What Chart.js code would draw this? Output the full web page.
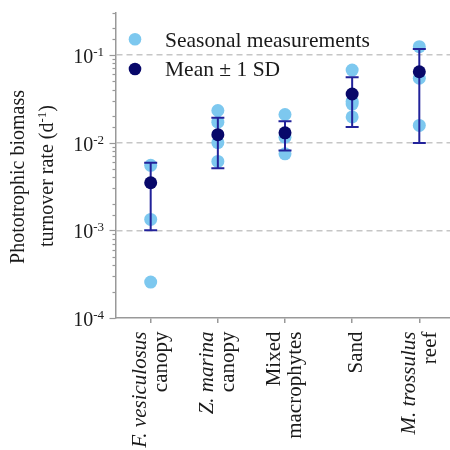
<!DOCTYPE html>
<html><head><meta charset="utf-8">
<script src="https://cdn.jsdelivr.net/npm/chart.js@4/dist/chart.umd.min.js"></script>
<style>html,body{margin:0;padding:0;background:#fff;}#wrap{width:450px;height:450px;position:relative;}</style>
</head><body>
<div id="wrap"><canvas id="c" width="450" height="450"></canvas></div>
<script>
// ---- data ----
const categories = ["F. vesiculosus canopy", "Z. marina canopy", "Mixed macrophytes", "Sand", "M. trossulus reef"];
const categoryLines = [["F. vesiculosus", "canopy"], ["Z. marina", "canopy"], ["Mixed", "macrophytes"], ["Sand"], ["M. trossulus", "reef"]];
const italicFirstLine = [true, true, false, false, true];
const seasonalValues = [
  [0.0055, 0.00133, 0.000257],
  [0.0232, 0.0171, 0.0100, 0.0061],
  [0.0209, 0.0115, 0.00745],
  [0.067, 0.0295, 0.0275, 0.0196],
  [0.124, 0.0541, 0.0157]
];
const meanValues = [0.00348, 0.0123, 0.0129, 0.0358, 0.0642];
const sdLower = [0.0010, 0.0051, 0.0081, 0.0150, 0.0099];
const sdUpper = [0.0059, 0.0192, 0.0175, 0.0556, 0.1165];
const yTickValues = [1e-1, 1e-2, 1e-3, 1e-4];
const yTickExponents = ["-1", "-2", "-3", "-4"];
const legendLabels = ["Seasonal measurements", "Mean \u00b1 1 SD"];
const yTitleLine1 = "Phototrophic biomass";
const yTitleLine2 = ["turnover rate (d", "-1", ")"];

// ---- style ----
const FONT = '"Liberation Serif","Times New Roman",serif';
const LIGHT = '#7dc8ef';
const DARK = '#08086a';
const ERR = '#22229a';
const AXIS = '#999999';
const TEXT = '#1a1a1a';

const seasonalPoints = seasonalValues.flatMap((arr, i) => arr.map(v => ({x: i, y: v})));
const meanPoints = meanValues.map((v, i) => ({x: i, y: v}));

function isDecade(v) { const l = Math.log10(v); return Math.abs(l - Math.round(l)) < 1e-6; }

const custom = {
  id: 'custom',
  afterDatasetDraw(chart, args) {
    if (args.index !== 0) return;
    const {ctx, scales: {x, y}} = chart;
    ctx.save();
    ctx.strokeStyle = ERR; ctx.lineWidth = 2;
    meanValues.forEach((m, i) => {
      const px = x.getPixelForValue(i);
      const y1 = y.getPixelForValue(sdLower[i]);
      const y2 = y.getPixelForValue(sdUpper[i]);
      ctx.beginPath();
      ctx.moveTo(px, y1); ctx.lineTo(px, y2);
      ctx.moveTo(px - 6.5, y1); ctx.lineTo(px + 6.5, y1);
      ctx.moveTo(px - 6.5, y2); ctx.lineTo(px + 6.5, y2);
      ctx.stroke();
    });
    ctx.restore();
  },
  afterDraw(chart) {
    const {ctx, scales: {x, y}, chartArea} = chart;
    ctx.save();
    // y tick marks
    ctx.strokeStyle = AXIS; ctx.lineWidth = 1.2;
    const ax = chartArea.left;
    y.ticks.forEach(t => {
      const py = Math.round(y.getPixelForValue(t.value)) + 0.5;
      const len = isDecade(t.value) ? 6 : 3;
      ctx.beginPath(); ctx.moveTo(ax - len, py); ctx.lineTo(ax, py); ctx.stroke();
    });
    // y tick labels with superscripts
    ctx.fillStyle = TEXT;
    ctx.textBaseline = 'alphabetic';
    ctx.textAlign = 'left';
    yTickValues.forEach((v, i) => {
      const py = y.getPixelForValue(v);
      ctx.font = '13px ' + FONT;
      const ws = ctx.measureText(yTickExponents[i]).width;
      ctx.font = '20px ' + FONT;
      const wb = ctx.measureText('10').width;
      const right = 104;
      ctx.fillText('10', right - ws - wb, py + 8);
      ctx.font = '13px ' + FONT;
      ctx.fillText(yTickExponents[i], right - ws, py + 1);
    });
    // x category labels (rotated)
    categoryLines.forEach((lines, i) => {
      const px = x.getPixelForValue(i);
      ctx.save();
      ctx.translate(px, 331.5);
      ctx.rotate(-Math.PI / 2);
      ctx.textAlign = 'right';
      ctx.textBaseline = 'alphabetic';
      if (lines.length === 1) {
        ctx.font = '21px ' + FONT;
        ctx.fillText(lines[0], 0, 9.5);
      } else {
        ctx.font = (italicFirstLine[i] ? 'italic ' : '') + '21px ' + FONT;
        ctx.fillText(lines[0], 0, -4.5);
        ctx.font = '21px ' + FONT;
        ctx.fillText(lines[1], 0, 16.5);
      }
      ctx.restore();
    });
    // y title
    ctx.save();
    ctx.translate(23.5, 177);
    ctx.rotate(-Math.PI / 2);
    ctx.font = '20px ' + FONT;
    ctx.textAlign = 'center';
    ctx.fillText(yTitleLine1, 0, 0);
    ctx.restore();
    ctx.save();
    ctx.translate(53, 176);
    ctx.rotate(-Math.PI / 2);
    ctx.textAlign = 'left';
    ctx.font = '20px ' + FONT;
    const w1 = ctx.measureText(yTitleLine2[0]).width;
    const w3 = ctx.measureText(yTitleLine2[2]).width;
    ctx.font = '13px ' + FONT;
    const w2 = ctx.measureText(yTitleLine2[1]).width;
    let sx = -(w1 + w2 + w3) / 2;
    ctx.font = '20px ' + FONT;
    ctx.fillText(yTitleLine2[0], sx, 0); sx += w1;
    ctx.font = '13px ' + FONT;
    ctx.fillText(yTitleLine2[1], sx, -7); sx += w2;
    ctx.font = '20px ' + FONT;
    ctx.fillText(yTitleLine2[2], sx, 0);
    ctx.restore();
    // legend
    const legendColors = [LIGHT, DARK];
    const legendY = [39.3, 69];
    legendLabels.forEach((lab, i) => {
      ctx.beginPath();
      ctx.fillStyle = legendColors[i];
      ctx.arc(135, legendY[i], 6.3, 0, Math.PI * 2);
      ctx.fill();
      ctx.fillStyle = TEXT;
      ctx.font = '21.5px ' + FONT;
      ctx.textAlign = 'left';
      ctx.textBaseline = 'alphabetic';
      ctx.fillText(lab, 165, legendY[i] + 7.2);
    });
    ctx.restore();
  }
};

new Chart(document.getElementById('c'), {
  type: 'scatter',
  data: {
    datasets: [
      {label: legendLabels[0], data: seasonalPoints, backgroundColor: LIGHT, borderWidth: 0, pointRadius: 6.5, order: 2, clip: false},
      {label: legendLabels[1], data: meanPoints, backgroundColor: DARK, borderWidth: 0, pointRadius: 6.5, order: 1, clip: false}
    ]
  },
  options: {
    responsive: false,
    animation: false,
    events: [],
    layout: {autoPadding: false, padding: {left: 0, right: 0, top: 13, bottom: 0}},
    plugins: {legend: {display: false}, tooltip: {enabled: false}},
    scales: {
      x: {
        type: 'linear', min: -0.524, max: 4.457,
        afterBuildTicks: s => { s.ticks = categories.map((c, i) => ({value: i})); },
        afterFit: s => { s.height = 132; },
        ticks: {display: false},
        grid: {drawOnChartArea: false, drawTicks: true, tickLength: 5, color: AXIS, lineWidth: 1.5},
        border: {color: AXIS, width: 1.5}
      },
      y: {
        type: 'logarithmic', min: 1e-4, max: 0.3,
        afterFit: s => { s.width = 115.5; },
        ticks: {display: false},
        grid: {
          drawTicks: false, lineWidth: 1.5,
          color: c => (c.tick && isDecade(c.tick.value) && c.tick.value > 1.5e-4) ? '#c6c6c6' : 'rgba(0,0,0,0)'
        },
        border: {color: AXIS, width: 1.5, dash: [6, 4]}
      }
    }
  },
  plugins: [custom]
});
</script>
</body></html>
